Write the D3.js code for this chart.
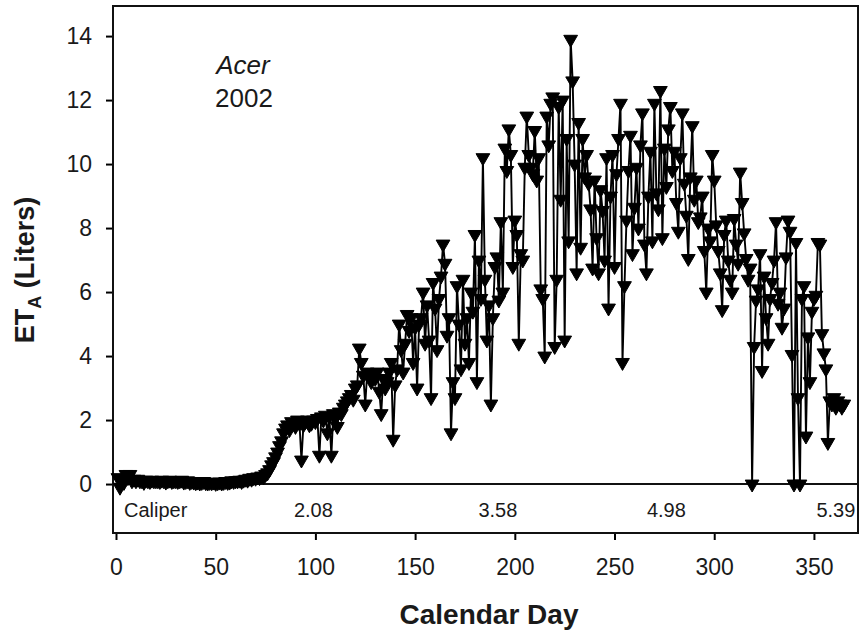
<!DOCTYPE html>
<html>
<head>
<meta charset="utf-8">
<script src="https://cdn.jsdelivr.net/npm/d3@7"></script>
<style>
  body { margin: 0; background: #fff; }
  svg { display: block; font-family: "Liberation Sans", Arial, sans-serif; }
</style>
</head>
<body>
<div id="container"></div>
<script>
/* CONSTANTS AND GLOBALS */
const width = 864, height = 633;

const etValues = [
  0.2, -0.1, 0.15, 0.05, 0.3, 0.2, 0.3, 0.1, 0.15, 0.1,
  0.15, 0.1, 0.1, 0.05, 0.12, 0.1, 0.08, 0.12, 0.1, 0.1,
  0.1, 0.08, 0.12, 0.1, 0.06, 0.1, 0.12, 0.08, 0.1, 0.1,
  0.08, 0.1, 0.12, 0.06, 0.08, 0.1, 0.05, 0.08, 0.06, 0.04,
  0.06, 0.03, 0.05, 0.08, 0.04, 0.03, 0.05, 0.04, 0.06, 0.02,
  0.04, 0.06, 0.03, 0.05, 0.08, 0.05, 0.06, 0.1, 0.08, 0.1,
  0.1, 0.12, 0.08, 0.12, 0.15, 0.12, 0.18, 0.15, 0.2, 0.18,
  0.22, 0.2, 0.25, 0.22, 0.3, 0.35, 0.45, 0.6, 0.7, 0.85,
  1.0, 1.2, 1.35, 1.6, 1.75, 1.85, 1.7, 1.95, 1.9, 1.8,
  2.0, 1.9, 0.75, 1.85, 1.95, 2.0, 1.85, 1.9, 2.0, 1.95,
  2.05, 0.9, 2.1, 2.0, 2.15, 1.6, 2.1, 0.9, 2.2, 2.1,
  1.8, 2.25, 2.2, 2.4, 2.5, 2.6, 2.7, 2.8, 2.65, 3.0,
  3.1, 4.25, 3.8, 3.4, 2.5, 3.5, 3.4, 3.2, 3.45, 3.3,
  3.5, 2.9, 2.2, 3.3, 3.0, 3.2, 3.5, 3.8, 1.4, 3.1,
  3.6, 5.0, 4.2, 3.5, 4.4, 5.3, 4.8, 5.2, 3.8, 4.9,
  3.0, 5.0, 5.2, 6.0, 4.4, 5.6, 4.5, 2.7, 6.3, 5.5,
  4.2, 5.8, 6.5, 7.5, 6.9, 4.65, 5.2, 1.6, 3.2, 2.7,
  6.2, 5.0, 3.6, 6.4, 4.4, 5.2, 3.8, 6.0, 5.4, 7.8,
  3.2, 7.0, 5.8, 10.2, 6.4, 4.5, 5.6, 2.5, 5.2, 6.8,
  7.1, 5.75, 8.2, 6.0, 10.5, 9.8, 11.1, 10.3, 6.8, 8.25,
  7.8, 4.4, 7.2, 7.0, 9.9, 11.5, 10.3, 9.9, 9.7, 11.05,
  9.5, 10.2, 6.1, 5.8, 4.0, 11.5, 10.6, 11.9, 12.1, 4.3,
  6.4, 11.8, 8.9, 12.0, 4.5, 10.8, 7.6, 13.9, 12.6, 10.0,
  6.6, 11.3, 7.4, 10.8, 9.6, 10.3, 9.4, 8.6, 6.75, 9.5,
  7.7, 6.6, 9.2, 8.55, 7.0, 10.2, 5.5, 9.0, 10.3, 6.8,
  9.7, 10.8, 11.9, 3.8, 6.2, 8.25, 9.8, 10.9, 7.2, 8.65,
  9.9, 8.0, 10.6, 11.6, 7.5, 6.6, 9.0, 10.4, 7.6, 11.9,
  9.1, 8.6, 12.3, 7.7, 10.5, 9.3, 11.1, 11.8, 9.8, 10.4,
  8.8, 7.9, 10.2, 11.6, 9.4, 8.4, 7.05, 9.6, 11.2, 8.9,
  9.5, 8.2, 8.35, 9.0, 7.3, 6.0, 8.0, 7.6, 10.3, 9.5,
  8.1, 7.3, 6.6, 5.45, 7.8, 8.25, 7.0, 6.4, 6.0, 8.3,
  7.5, 6.9, 9.75, 8.8, 7.85, 7.05, 6.4, 6.75, 0.0, 4.3,
  5.75, 6.1, 7.2, 3.55, 6.5, 5.2, 4.4, 5.8, 6.3, 7.0,
  8.2, 5.65, 6.0, 4.9, 5.5, 7.1, 8.25, 7.9, 4.05, 0.0,
  7.55, 2.7, 0.0, 5.8, 6.2, 1.5, 4.6, 3.2, 5.4, 5.8,
  5.9, 7.55, 7.5, 4.7, 4.1, 3.6, 1.3, 2.6, 2.5, 2.7,
  2.4, 2.6, 2.5, 2.4, 2.5
];
const firstDay = 1;

// caliper readings shown in the strip under the zero line
const caliperDays = [99, 191.5, 276, 361];
const caliperLabels = ["2.08", "3.58", "4.98", "5.39"];

const xTicks = [0, 50, 100, 150, 200, 250, 300, 350];
const yTicks = [0, 2, 4, 6, 8, 10, 12, 14];

const data = etValues.map((v, i) => ({ day: firstDay + i, et: v }));

/* SCALES */
const xScale = d3.scaleLinear()
  .domain([-1.5, 372.1])
  .range([113, 858]);

const yScale = d3.scaleLinear()
  .domain([-1.53, 14.94])
  .range([533, 6]);

/* SVG */
const svg = d3.select("#container")
  .append("svg")
  .attr("width", width)
  .attr("height", height);

svg.append("rect")
  .attr("width", width).attr("height", height)
  .attr("fill", "#fff");

// + AXES
const yAxis = d3.axisLeft(yScale)
  .tickValues(yTicks)
  .tickSize(7)
  .tickPadding(14)
  .tickFormat(d3.format("d"));

const xAxis = d3.axisBottom(xScale)
  .tickValues(xTicks)
  .tickSize(7)
  .tickPadding(19)
  .tickFormat(d3.format("d"));

const yAxisGroup = svg.append("g")
  .attr("transform", `translate(${xScale.range()[0]},0)`)
  .call(yAxis);

const xAxisGroup = svg.append("g")
  .attr("transform", `translate(0,${yScale.range()[0]})`)
  .call(xAxis);

[yAxisGroup, xAxisGroup].forEach(g => {
  g.select(".domain").remove();
  g.selectAll(".tick line").attr("stroke", "#000").attr("stroke-width", 2);
  g.selectAll(".tick text")
    .attr("fill", "#1a1a1a")
    .style("font-family", "'Liberation Sans', Arial, sans-serif")
    .style("font-size", "23px");
});

// frame and zero line
svg.append("rect")
  .attr("x", xScale.range()[0])
  .attr("y", yScale.range()[1])
  .attr("width", xScale.range()[1] - xScale.range()[0])
  .attr("height", yScale.range()[0] - yScale.range()[1])
  .attr("fill", "none")
  .attr("stroke", "#111")
  .attr("stroke-width", 2);

svg.append("line")
  .attr("x1", xScale.range()[0]).attr("x2", xScale.range()[1])
  .attr("y1", yScale(0)).attr("y2", yScale(0))
  .attr("stroke", "#111")
  .attr("stroke-width", 2);

// + SERIES
const line = d3.line()
  .x(d => xScale(d.day))
  .y(d => yScale(d.et));

svg.append("path")
  .datum(data)
  .attr("d", line)
  .attr("fill", "none")
  .attr("stroke", "#000")
  .attr("stroke-width", 1.9);

const tri = d3.symbol().type(d3.symbolTriangle).size(82);

svg.append("g")
  .selectAll("path.mark")
  .data(data)
  .join("path")
  .attr("class", "mark")
  .attr("d", tri)
  .attr("transform", d => `translate(${xScale(d.day)},${yScale(d.et)}) rotate(180)`)
  .attr("fill", "#000")
  .attr("stroke", "#000")
  .attr("stroke-width", 1);

// + CALIPER STRIP
const stripY = 517;
svg.append("text")
  .attr("x", 124).attr("y", stripY)
  .style("font-size", "20px")
  .attr("fill", "#1a1a1a")
  .text("Caliper");

svg.append("g")
  .selectAll("text")
  .data(caliperLabels)
  .join("text")
  .attr("x", (d, i) => xScale(caliperDays[i]))
  .attr("y", stripY)
  .attr("text-anchor", "middle")
  .style("font-size", "20px")
  .attr("fill", "#1a1a1a")
  .text(d => d);

// + ANNOTATION
svg.append("text")
  .attr("x", 243).attr("y", 74)
  .attr("text-anchor", "middle")
  .style("font-size", "26px")
  .style("font-style", "italic")
  .attr("fill", "#1a1a1a")
  .text("Acer");

svg.append("text")
  .attr("x", 244).attr("y", 107)
  .attr("text-anchor", "middle")
  .style("font-size", "26px")
  .attr("fill", "#1a1a1a")
  .text("2002");

// + AXIS TITLES
svg.append("text")
  .attr("x", 489).attr("y", 624)
  .attr("text-anchor", "middle")
  .style("font-size", "28px")
  .style("font-weight", "bold")
  .attr("fill", "#1a1a1a")
  .text("Calendar Day");

const yTitle = svg.append("text")
  .attr("transform", "translate(34,270) rotate(-90)")
  .attr("text-anchor", "middle")
  .style("font-size", "27px")
  .style("font-weight", "bold")
  .attr("fill", "#1a1a1a");
yTitle.append("tspan").text("ET");
yTitle.append("tspan").attr("dy", 7).style("font-size", "18px").text("A");
yTitle.append("tspan").attr("dy", -7).text(" (Liters)");
</script>
</body>
</html>
